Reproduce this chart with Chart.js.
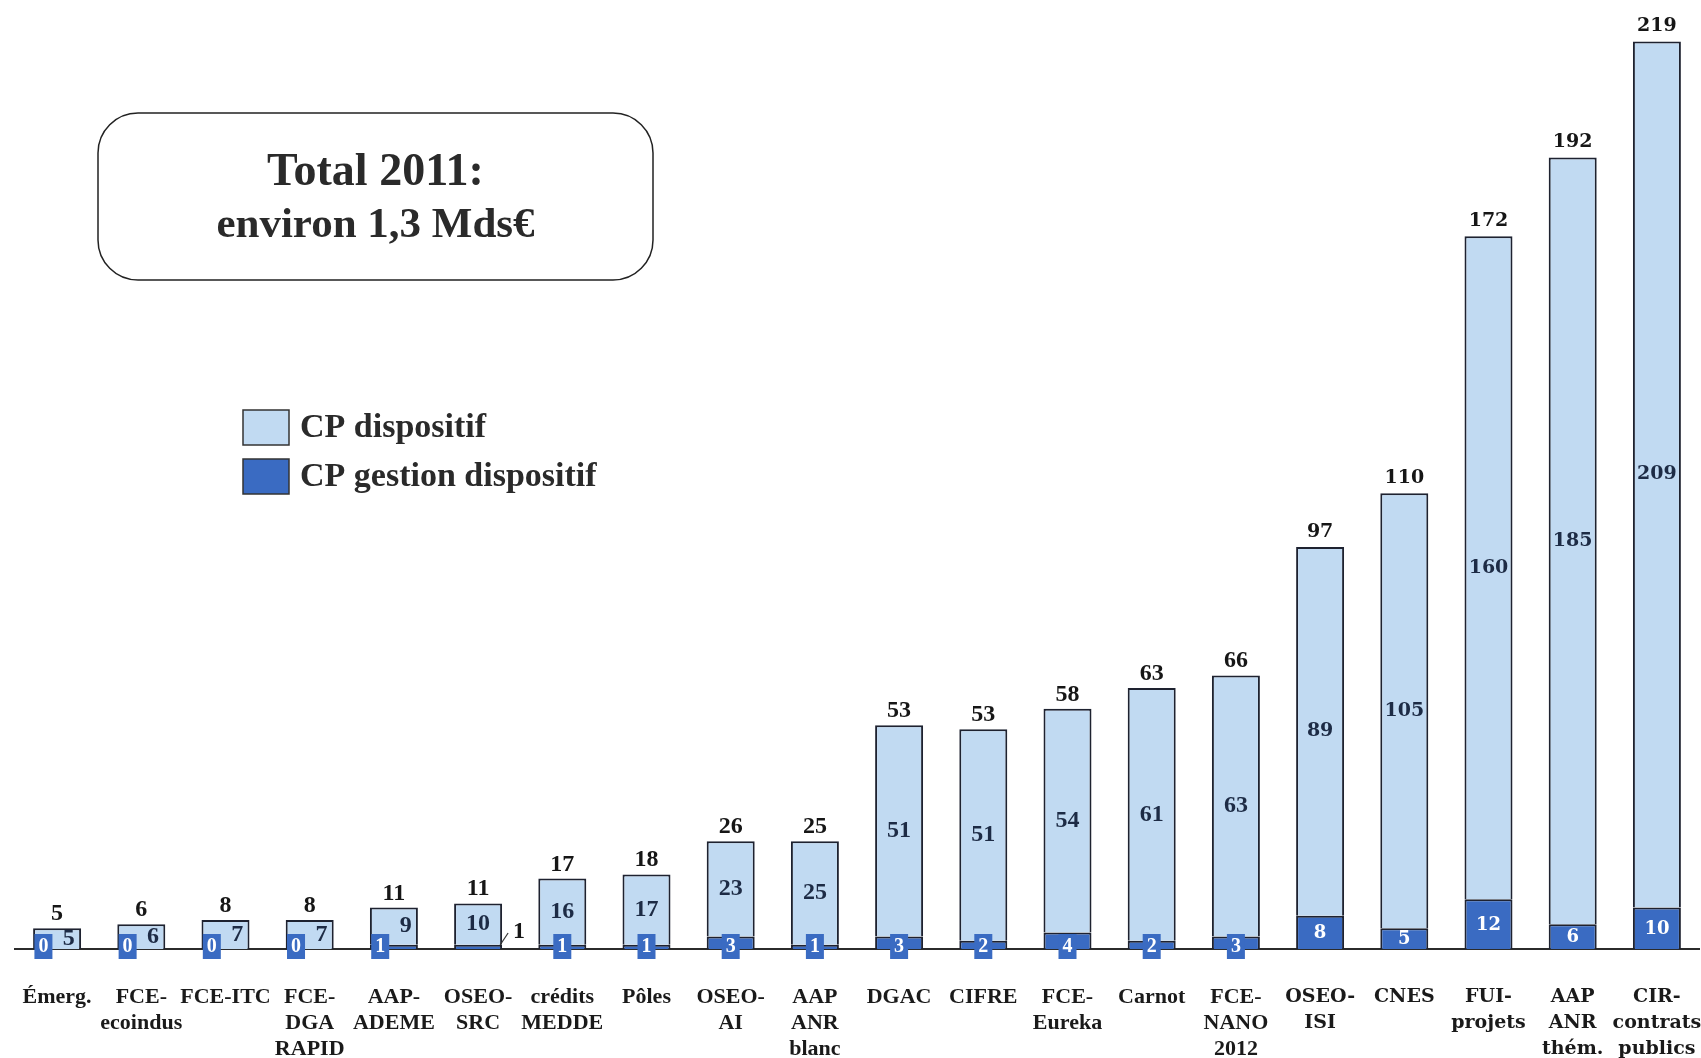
<!DOCTYPE html>
<html><head><meta charset="utf-8">
<script src="https://cdn.jsdelivr.net/npm/chart.js@4.4.1/dist/chart.umd.min.js"></script>
<style>html,body{margin:0;padding:0;background:#fff}canvas{display:block}</style>
</head><body>
<canvas id="c" width="1701" height="1058"></canvas>
<script>
const categories = [
  ['Émerg.'], ['FCE-','ecoindus'], ['FCE-ITC'], ['FCE-','DGA','RAPID'], ['AAP-','ADEME'],
  ['OSEO-','SRC'], ['crédits','MEDDE'], ['Pôles'], ['OSEO-','AI'], ['AAP','ANR','blanc'],
  ['DGAC'], ['CIFRE'], ['FCE-','Eureka'], ['Carnot'], ['FCE-','NANO','2012'],
  ['OSEO-','ISI'], ['CNES'], ['FUI-','projets'], ['AAP','ANR','thém.'], ['CIR-','contrats','publics']
];
const cpDispositif = [5, 6, 7, 7, 9, 10, 16, 17, 23, 25, 51, 51, 54, 61, 63, 89, 105, 160, 185, 209];
const cpGestion    = [0, 0, 0, 0, 1, 1, 1, 1, 3, 1, 3, 2, 4, 2, 3, 8, 5, 12, 6, 10];
const totals       = [5, 6, 8, 8, 11, 11, 17, 18, 26, 25, 53, 53, 58, 63, 66, 97, 110, 172, 192, 219];
const seriesNames  = ['CP gestion dispositif', 'CP dispositif'];
const titleLines   = ['Total 2011:', 'environ 1,3 Mds€'];

const SERIF = '"Liberation Serif", "Times New Roman", serif';
const WIDE = '"DejaVu Serif", serif';
const LIGHT = '#c1daf2';
const DARK = '#3a6bc2';
const EDGE = '#1e2230';

const overlay = {
  id: 'overlay',
  afterDraw(chart, args, o) {
    const ctx = chart.ctx;
    ctx.save();
    // title box
    ctx.beginPath();
    ctx.roundRect(o.box.x, o.box.y, o.box.w, o.box.h, o.box.r);
    ctx.lineWidth = 1.5; ctx.strokeStyle = '#222'; ctx.stroke();
    ctx.fillStyle = '#2a2a2a';
    ctx.textAlign = 'center'; ctx.textBaseline = 'middle';
    ctx.font = 'bold 46px ' + SERIF;
    ctx.fillText(titleLines[0], o.box.x + o.box.w / 2, o.box.y + 60);
    ctx.font = 'bold 43px ' + SERIF;
    ctx.fillText(titleLines[1], o.box.x + o.box.w / 2, o.box.y + 113);
    // legend (reverse dataset order)
    const ds = chart.data.datasets;
    [1, 0].forEach((di, k) => {
      const y = o.legend.y + k * o.legend.gap;
      ctx.fillStyle = ds[di].backgroundColor;
      ctx.fillRect(o.legend.x, y, 46, 35);
      ctx.lineWidth = 1.5; ctx.strokeStyle = '#333';
      ctx.strokeRect(o.legend.x, y, 46, 35);
      ctx.fillStyle = '#2a2a2a';
      ctx.font = 'bold 34px ' + SERIF;
      ctx.textAlign = 'left'; ctx.textBaseline = 'middle';
      ctx.fillText(ds[di].label, o.legend.x + 57, y + 18);
    });
    // value labels
    const mg = chart.getDatasetMeta(0), md = chart.getDatasetMeta(1);
    const base = chart.scales.y.getPixelForValue(0);
    categories.forEach((c, i) => {
      const eg = mg.data[i], ed = md.data[i];
      const wide = i >= 15;
      const fam = wide ? WIDE : SERIF;
      const sz = wide ? 19 : 24;
      const x = ed.x, half = ed.width / 2;
      ctx.textAlign = 'center';
      ctx.textBaseline = 'alphabetic';
      ctx.font = 'bold ' + sz + 'px ' + fam;
      ctx.fillStyle = '#161616';
      ctx.fillText(String(totals[i]), x, ed.y - (wide ? 10 : 8));
      const side = cpDispositif[i] < 10;
      ctx.textBaseline = 'middle';
      ctx.fillStyle = '#1d2b45';
      ctx.fillText(String(cpDispositif[i]), side ? x + half * 0.49 : x, (ed.y + ed.base) / 2);
      if (i === o.calloutIndex) {
        ctx.fillStyle = '#161616';
        ctx.fillText(String(cpGestion[i]), x + half + 17, base - 17);
        ctx.beginPath(); ctx.moveTo(x + half - 2, base - 4); ctx.lineTo(x + half + 6, base - 16);
        ctx.lineWidth = 1.2; ctx.strokeStyle = '#333'; ctx.stroke();
      } else if (totals[i] < 80) {
        const bx = side ? x - half * 0.57 : x;
        ctx.fillStyle = DARK;
        ctx.fillRect(bx - 9, base - 15, 18, 25);
        ctx.fillStyle = '#fff';
        ctx.font = 'bold 20px ' + SERIF;
        ctx.fillText(String(cpGestion[i]), bx, base - 2);
      } else {
        ctx.fillStyle = '#fff';
        ctx.font = 'bold 18px ' + WIDE;
        ctx.fillText(String(cpGestion[i]), x, (eg.y + eg.base) / 2 + 1);
      }
    });
    ctx.restore();
  }
};

new Chart(document.getElementById('c'), {
  type: 'bar',
  data: {
    labels: categories,
    datasets: [
      { label: seriesNames[0], data: cpGestion, backgroundColor: DARK, borderColor: EDGE, borderWidth: 2 },
      { label: seriesNames[1], data: cpDispositif, backgroundColor: LIGHT, borderColor: EDGE, borderWidth: 2 }
    ]
  },
  options: {
    responsive: false,
    devicePixelRatio: 1,
    animation: false,
    layout: { padding: { left: 15, right: 2, top: 0, bottom: 0 } },
    datasets: { bar: { barPercentage: 0.57, categoryPercentage: 1 } },
    plugins: {
      legend: { display: false },
      tooltip: { enabled: false },
      overlay: {
        box: { x: 98, y: 113, w: 555, h: 167, r: 40 },
        legend: { x: 243, y: 410, gap: 49 },
        calloutIndex: 5
      }
    },
    scales: {
      x: {
        stacked: true,
        grid: { display: false, drawTicks: false },
        border: { display: true, color: '#2b2b2b', width: 2 },
        ticks: {
          autoSkip: false, maxRotation: 0, minRotation: 0, padding: 35, color: '#1a1a1a',
          font: (c) => c.index >= 15
            ? { family: WIDE, size: 19, weight: 'bold', lineHeight: 1.37 }
            : { family: SERIF, size: 22, weight: 'bold', lineHeight: 1.19 }
        },
        afterFit: (s) => { s.height = 109; s.paddingLeft = 0; s.paddingRight = 0; }
      },
      y: { stacked: true, display: false, min: 0, max: 229 }
    }
  },
  plugins: [overlay]
});
</script>
</body></html>
